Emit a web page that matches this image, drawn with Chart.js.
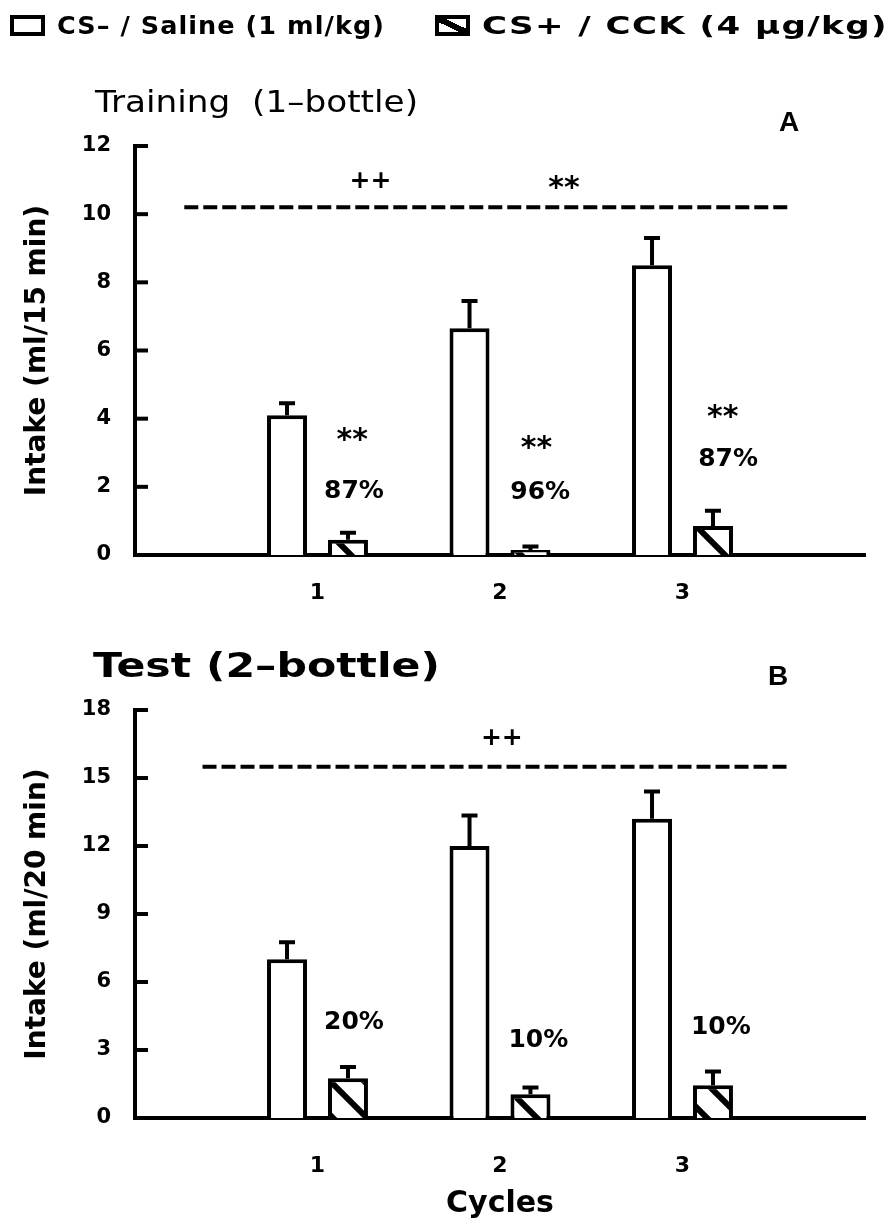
<!DOCTYPE html>
<html>
<head>
<meta charset="utf-8">
<script src="https://cdn.jsdelivr.net/npm/chart.js@4.4.0/dist/chart.umd.min.js"></script>
<style>
  html, body { margin: 0; padding: 0; background: #fff; }
  #page { position: relative; width: 896px; height: 1228px; overflow: hidden; }
  canvas { position: absolute; left: 0; }
  .txt { position: absolute; white-space: pre; line-height: 1; color: #000; font-family: "DejaVu Sans"; z-index: 2; }
  .leg { font-size: 24px; font-weight: bold; top: 14px; letter-spacing: 1px; }
  .box { position: absolute; width: 27px; height: 13px; border: 4px solid #000; background: #fff; top: 15px; z-index: 2; }
  .box.hatch { background: linear-gradient(to top right, #fff calc(50% - 3px), #000 calc(50% - 3px), #000 calc(50% + 3px), #fff calc(50% + 3px)); }
  .letter { font-size: 28px; font-weight: bold; font-family: "Liberation Sans"; }
</style>
</head>
<body>
<div id="page">
  <div class="box" style="left:10px"></div>
  <div class="txt leg" id="leg1" style="left:57px">CS– / Saline (1 ml/kg)</div>
  <div class="box hatch" style="left:435px"></div>
  <div class="txt leg" id="leg2" style="left:482px">CS+ / CCK (4 μg/kg)</div>

  <div class="txt" id="titleA" style="left:95px; top:86px; font-size:31px;">Training  (1–bottle)</div>
  <div class="txt letter" style="left:779px; top:108px;">A</div>
  <div class="txt" id="titleB" style="left:93px; top:649px; font-size:33px; font-weight:bold;">Test (2–bottle)</div>
  <div class="txt letter" style="left:768px; top:662px;">B</div>

  <canvas id="chartA" width="896" height="615" style="top:0"></canvas>
  <canvas id="chartB" width="896" height="613" style="top:615px"></canvas>
</div>
<script>
// cycles on the x axis
const cycles = [1, 2, 3];

// Training (1-bottle), ml / 15 min
const trainSaline = [4.1, 6.65, 8.5];
const trainSalineSem = [0.35, 0.8, 0.8];
const trainCck = [0.45, 0.15, 0.85];
const trainCckSem = [0.2, 0.1, 0.45];
const trainTicks = [0, 2, 4, 6, 8, 10, 12];
const trainSigLevel = 10.2;
const trainSigSpan = [0.27, 3.58];

// Test (2-bottle), ml / 20 min
const testSaline = [7.0, 12.0, 13.2];
const testSalineSem = [0.75, 1.35, 1.2];
const testCck = [1.75, 1.05, 1.45];
const testCckSem = [0.5, 0.3, 0.6];
const testTicks = [0, 3, 6, 9, 12, 15, 18];
const testSigLevel = 15.5;
const testSigSpan = [0.37, 3.58];

// texts written on the charts
const trainNotes = [
  { text: '++', x: 1.29, y: 10.97 },
  { text: '**', x: 2.35, y: 10.97 },
  { text: '**', x: 1.19, y: 3.58 },
  { text: '87%', x: 1.2, y: 1.85 },
  { text: '**', x: 2.2, y: 3.35 },
  { text: '96%', x: 2.22, y: 1.82 },
  { text: '**', x: 3.22, y: 4.25 },
  { text: '87%', x: 3.25, y: 2.79 }
];
const testNotes = [
  { text: '++', x: 2.01, y: 16.76 },
  { text: '20%', x: 1.2, y: 4.23 },
  { text: '10%', x: 2.21, y: 3.44 },
  { text: '10%', x: 3.21, y: 4.01 }
];

Chart.defaults.font.family = 'DejaVu Sans';
Chart.defaults.color = '#000';

// stretch a text sideways to the width it has in the picture
function fitText(id, w) {
    const el = document.getElementById(id);
    const natural = el.getBoundingClientRect().width;
    el.style.transformOrigin = '0 50%';
    el.style.transform = 'scaleX(' + (w / natural) + ')';
}
fitText('leg1', 328);
fitText('leg2', 406);
fitText('titleA', 323);
fitText('titleB', 347);

function makeHatch() {
    const c = document.createElement('canvas');
    c.width = 34; c.height = 34;
    const g = c.getContext('2d');
    g.fillStyle = '#fff';
    g.fillRect(0, 0, 34, 34);
    g.strokeStyle = '#000';
    g.lineWidth = 6;
    g.beginPath();
    for (let k = -1; k <= 1; k++) {
        g.moveTo(-6, -6 + k * 34);
        g.lineTo(40, 40 + k * 34);
    }
    g.stroke();
    return g.createPattern(c, 'repeat');
}
const hatch = makeHatch();

// short tick marks pointing into the plot
const inwardTicks = {
    id: 'inwardTicks',
    afterDraw(chart) {
        const y = chart.scales.y;
        const left = chart.chartArea.left;
        const ctx = chart.ctx;
        ctx.save();
        ctx.strokeStyle = '#000';
        ctx.lineWidth = 4;
        y.ticks.forEach(t => {
            const py = y.getPixelForValue(t.value);
            ctx.beginPath();
            ctx.moveTo(left - 2, py);
            ctx.lineTo(left + 13, py);
            ctx.stroke();
        });
        ctx.restore();
    }
};

// SEM bars above each bar
const errorBars = {
    id: 'errorBars',
    afterDatasetsDraw(chart) {
        const ctx = chart.ctx;
        const y = chart.scales.y;
        ctx.save();
        ctx.strokeStyle = '#000';
        ctx.lineWidth = 4;
        chart.data.datasets.forEach((ds, di) => {
            if (!ds.sem) return;
            chart.getDatasetMeta(di).data.forEach((bar, i) => {
                const top = y.getPixelForValue(ds.data[i].y + ds.sem[i]);
                ctx.beginPath();
                ctx.moveTo(bar.x, bar.y);
                ctx.lineTo(bar.x, top);
                ctx.moveTo(bar.x - 8, top);
                ctx.lineTo(bar.x + 8, top);
                ctx.stroke();
            });
        });
        ctx.restore();
    }
};

function notesPlugin(notes) {
    return {
        id: 'notes',
        afterDatasetsDraw(chart) {
            const ctx = chart.ctx;
            const { x, y } = chart.scales;
            ctx.save();
            ctx.fillStyle = '#000';
            ctx.textAlign = 'center';
            ctx.textBaseline = 'middle';
            notes.forEach(n => {
                const stars = n.text === '**';
                ctx.font = stars ? 'bold 30px "DejaVu Sans"' : 'bold 25px "DejaVu Sans"';
                ctx.fillText(n.text, x.getPixelForValue(n.x), y.getPixelForValue(n.y) + (stars ? 8 : 0));
            });
            ctx.restore();
        }
    };
}

function buildChart(id, cfg) {
    return new Chart(document.getElementById(id), {
        type: 'bar',
        data: {
            datasets: [
                {
                    label: 'CS– / Saline (1 ml/kg)',
                    data: cycles.map((c, i) => ({ x: c, y: cfg.saline[i] })),
                    sem: cfg.salineSem,
                    backgroundColor: '#fff',
                    borderColor: '#000',
                    borderWidth: 4,
                    barPercentage: 0.656,
                    categoryPercentage: 0.668
                },
                {
                    label: 'CS+ / CCK (4 μg/kg)',
                    data: cycles.map((c, i) => ({ x: c, y: cfg.cck[i] })),
                    sem: cfg.cckSem,
                    backgroundColor: hatch,
                    borderColor: '#000',
                    borderWidth: 4,
                    barPercentage: 0.656,
                    categoryPercentage: 0.668
                },
                {
                    type: 'line',
                    label: 'significance',
                    data: cfg.sigSpan.map(v => ({ x: v, y: cfg.sigLevel })),
                    borderColor: '#000',
                    borderWidth: 4,
                    borderDash: [14, 5],
                    pointRadius: 0,
                    fill: false
                }
            ]
        },
        options: {
            responsive: false,
            animation: false,
            layout: { padding: { top: cfg.top, right: 31, bottom: 0, left: 0 } },
            plugins: {
                legend: { display: false },
                title: { display: false },
                tooltip: { enabled: false }
            },
            scales: {
                x: {
                    type: 'linear',
                    min: 0,
                    max: 4,
                    offset: false,
                    afterBuildTicks: s => { s.ticks = cycles.map(v => ({ value: v })); },
                    afterFit: s => { s.height = cfg.bottom; },
                    grid: { display: false, drawTicks: false },
                    border: { display: true, color: '#000', width: 4 },
                    ticks: { padding: cfg.xPad, font: { size: 22, weight: 'bold' }, color: '#000' },
                    title: {
                        display: !!cfg.xTitle,
                        text: cfg.xTitle || '',
                        font: { size: 30, weight: 'bold' },
                        padding: { top: 0, bottom: 6 },
                        color: '#000'
                    }
                },
                y: {
                    min: cfg.ticks[0],
                    max: cfg.ticks[cfg.ticks.length - 1],
                    afterBuildTicks: s => { s.ticks = cfg.ticks.map(v => ({ value: v })); },
                    afterFit: s => { s.width = 135; },
                    grid: { display: false, drawTicks: false },
                    border: { display: true, color: '#000', width: 4 },
                    ticks: { padding: 24, font: { size: 21, weight: 'bold' }, color: '#000' },
                    title: {
                        display: true,
                        text: cfg.yTitle,
                        font: { size: 28, weight: 'bold' },
                        padding: { top: 21, bottom: 0 },
                        color: '#000'
                    }
                }
            }
        },
        plugins: [inwardTicks, errorBars, notesPlugin(cfg.notes)]
    });
}

buildChart('chartA', {
    saline: trainSaline, salineSem: trainSalineSem,
    cck: trainCck, cckSem: trainCckSem,
    ticks: trainTicks, sigLevel: trainSigLevel, sigSpan: trainSigSpan,
    notes: trainNotes, yTitle: 'Intake (ml/15 min)',
    top: 146, bottom: 60, xPad: 25
});

buildChart('chartB', {
    saline: testSaline, salineSem: testSalineSem,
    cck: testCck, cckSem: testCckSem,
    ticks: testTicks, sigLevel: testSigLevel, sigSpan: testSigSpan,
    notes: testNotes, yTitle: 'Intake (ml/20 min)', xTitle: 'Cycles',
    top: 95, bottom: 110, xPad: 35
});
</script>
</body>
</html>
